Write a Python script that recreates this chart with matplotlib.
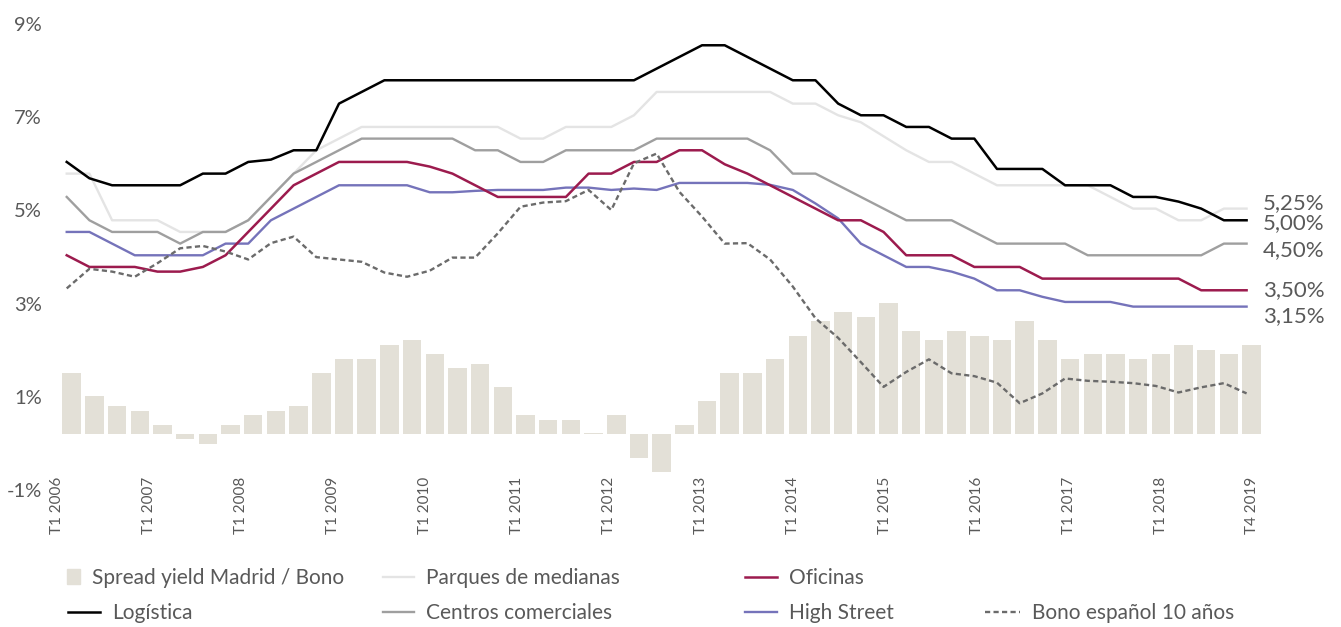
import matplotlib.pyplot as plt
import numpy as np
from matplotlib.lines import Line2D
from matplotlib.patches import Patch

plt.rcParams['font.family'] = ['Lato', 'DejaVu Sans']

# series trimestrales (T1 2006 .. T4 2019), en %
spread = [1.31, 0.81, 0.60, 0.49, 0.19, -0.11, -0.21, 0.19, 0.41, 0.49, 0.60, 1.31, 1.61, 1.61,
          1.91, 2.01, 1.71, 1.41, 1.50, 1.01, 0.41, 0.30, 0.30, 0.02, 0.41, -0.51, -0.81, 0.19,
          0.71, 1.31, 1.31, 1.61, 2.10, 2.42, 2.61, 2.51, 2.80, 2.21, 2.01, 2.21, 2.10, 2.01,
          2.42, 2.01, 1.61, 1.71, 1.71, 1.61, 1.71, 1.91, 1.80, 1.71, 1.91]
logistica = [6.25, 5.9, 5.75, 5.75, 5.75, 5.75, 6.0, 6.0, 6.25, 6.3, 6.5, 6.5, 7.5, 7.75,
             8.0, 8.0, 8.0, 8.0, 8.0, 8.0, 8.0, 8.0, 8.0, 8.0, 8.0, 8.0, 8.25, 8.5,
             8.75, 8.75, 8.5, 8.25, 8.0, 8.0, 7.5, 7.25, 7.25, 7.0, 7.0, 6.75, 6.75, 6.1,
             6.1, 6.1, 5.75, 5.75, 5.75, 5.5, 5.5, 5.4, 5.25, 5.0, 5.0]
parques = [6.0, 6.0, 5.0, 5.0, 5.0, 4.75, 4.75, 4.75, 5.0, 5.5, 6.0, 6.5, 6.75, 7.0,
           7.0, 7.0, 7.0, 7.0, 7.0, 7.0, 6.75, 6.75, 7.0, 7.0, 7.0, 7.25, 7.75, 7.75,
           7.75, 7.75, 7.75, 7.75, 7.5, 7.5, 7.25, 7.1, 6.8, 6.5, 6.25, 6.25, 6.0, 5.75,
           5.75, 5.75, 5.75, 5.75, 5.5, 5.25, 5.25, 5.0, 5.0, 5.25, 5.25]
centros = [5.5, 5.0, 4.75, 4.75, 4.75, 4.5, 4.75, 4.75, 5.0, 5.5, 6.0, 6.25, 6.5, 6.75,
           6.75, 6.75, 6.75, 6.75, 6.5, 6.5, 6.25, 6.25, 6.5, 6.5, 6.5, 6.5, 6.75, 6.75,
           6.75, 6.75, 6.75, 6.5, 6.0, 6.0, 5.75, 5.5, 5.25, 5.0, 5.0, 5.0, 4.75, 4.5,
           4.5, 4.5, 4.5, 4.25, 4.25, 4.25, 4.25, 4.25, 4.25, 4.5, 4.5]
oficinas = [4.25, 4.0, 4.0, 4.0, 3.9, 3.9, 4.0, 4.25, 4.75, 5.25, 5.75, 6.0, 6.25, 6.25,
            6.25, 6.25, 6.15, 6.0, 5.75, 5.5, 5.5, 5.5, 5.5, 6.0, 6.0, 6.25, 6.25, 6.5,
            6.5, 6.2, 6.0, 5.75, 5.5, 5.25, 5.0, 5.0, 4.75, 4.25, 4.25, 4.25, 4.0, 4.0,
            4.0, 3.75, 3.75, 3.75, 3.75, 3.75, 3.75, 3.75, 3.5, 3.5, 3.5]
high_street = [4.75, 4.75, 4.5, 4.25, 4.25, 4.25, 4.25, 4.5, 4.5, 5.0, 5.25, 5.5, 5.75, 5.75,
               5.75, 5.75, 5.6, 5.6, 5.63, 5.65, 5.65, 5.65, 5.7, 5.7, 5.65, 5.68, 5.65, 5.8,
               5.8, 5.8, 5.8, 5.76, 5.65, 5.36, 5.04, 4.5, 4.25, 4.0, 4.0, 3.9, 3.75, 3.5,
               3.5, 3.36, 3.25, 3.25, 3.25, 3.15, 3.15, 3.15, 3.15, 3.15, 3.15]
bono = [3.54, 3.96, 3.9, 3.79, 4.08, 4.4, 4.45, 4.33, 4.16, 4.51, 4.65, 4.21, 4.16, 4.11,
        3.88, 3.79, 3.92, 4.2, 4.2, 4.72, 5.29, 5.38, 5.41, 5.65, 5.22, 6.22, 6.43, 5.61,
        5.08, 4.5, 4.51, 4.16, 3.58, 2.9, 2.48, 1.96, 1.43, 1.75, 2.02, 1.72, 1.66, 1.52,
        1.08, 1.29, 1.61, 1.56, 1.54, 1.51, 1.45, 1.31, 1.42, 1.51, 1.29]

xlabels = ['T1 2006', 'T1 2007', 'T1 2008', 'T1 2009', 'T1 2010', 'T1 2011', 'T1 2012',
           'T1 2013', 'T1 2014', 'T1 2015', 'T1 2016', 'T1 2017', 'T1 2018', 'T4 2019']
end_labels = ['5,25%', '5,00%', '4,50%', '3,50%', '3,15%']

TXT = '#595959'
C_SPREAD = '#e3e0d7'
C_LOG = '#000000'
C_PARQ = '#e4e4e4'
C_CENT = '#9f9f9f'
C_OFI = '#9c1b4e'
C_HS = '#7573ba'
C_BONO = '#6b6b6b'

x = np.arange(len(logistica))

fig = plt.figure(figsize=(13.41, 6.27), dpi=100)
ax = fig.add_axes([0.0373, 0.2021, 0.9038, 0.7443])
axb = ax.twinx()
axb.set_zorder(0)
ax.set_zorder(1)
ax.patch.set_visible(False)

# barras (eje secundario desplazado)
axb.bar(x + 0.22, spread, width=0.815, color=C_SPREAD)
axb.set_ylim(-1.42, 8.58)
axb.set_yticks([])
for s in axb.spines.values():
    s.set_visible(False)

ax.plot(x, parques, color=C_PARQ, lw=1.7)
ax.plot(x, centros, color=C_CENT, lw=1.7)
ax.plot(x, high_street, color=C_HS, lw=1.7)
ax.plot(x, oficinas, color=C_OFI, lw=1.8)
ax.plot(x, logistica, color=C_LOG, lw=1.8)
ax.plot(x, bono, color=C_BONO, lw=1.7, dashes=(2.2, 1.4))

ax.set_xlim(-0.736, 52.68)
ax.set_ylim(-1, 9)
ax.set_yticks([-1, 1, 3, 5, 7, 9])
ax.set_yticklabels(['-1%', '1%', '3%', '5%', '7%', '9%'])
for lab in ax.get_yticklabels():
    lab.set_va('bottom')
ax.tick_params(axis='y', length=0, pad=6, labelsize=14.5, labelcolor=TXT)

ax.set_xticks(np.linspace(-0.43, 52.26, len(xlabels)))
ax.set_xticklabels(xlabels, rotation=90)
ax.tick_params(axis='x', length=0, pad=-17, labelsize=11, labelcolor=TXT)
for s in ax.spines.values():
    s.set_visible(False)

# etiquetas finales
last = [parques[-1], logistica[-1], centros[-1], oficinas[-1], high_street[-1]]
offs = [4, -2, -5, 0, -7]
for lab, v, o in zip(end_labels, last, offs):
    ax.annotate(lab, xy=(x[-1], v), xytext=(12, o), textcoords='offset points',
                va='center', ha='left', fontsize=16, color=TXT)

# leyenda
items = [
    (Patch(color=C_SPREAD), 'Spread yield Madrid / Bono', 67, 578, 0.62),
    (Line2D([], [], color=C_PARQ, lw=1.7), 'Parques de medianas', 383, 578, 1.5),
    (Line2D([], [], color=C_OFI, lw=1.8), 'Oficinas', 745, 578, 1.55),
    (Line2D([], [], color=C_LOG, lw=1.8), 'Logística', 68, 613, 1.55),
    (Line2D([], [], color=C_CENT, lw=1.7), 'Centros comerciales', 383, 613, 1.5),
    (Line2D([], [], color=C_HS, lw=1.7), 'High Street', 745, 613, 1.55),
    (Line2D([], [], color=C_BONO, lw=1.7, dashes=(2.2, 1.4)), 'Bono español 10 años', 985, 613, 1.7),
]
for h, lab, px, py, hl in items:
    fig.legend(handles=[h], labels=[lab], loc='center left',
               bbox_to_anchor=(px / 1341, 1 - py / 627), frameon=False,
               borderpad=0, borderaxespad=0, handlelength=hl, handleheight=0.75,
               handletextpad=0.58, fontsize=15, labelcolor=TXT)

fig.savefig('out.png', dpi=100)
